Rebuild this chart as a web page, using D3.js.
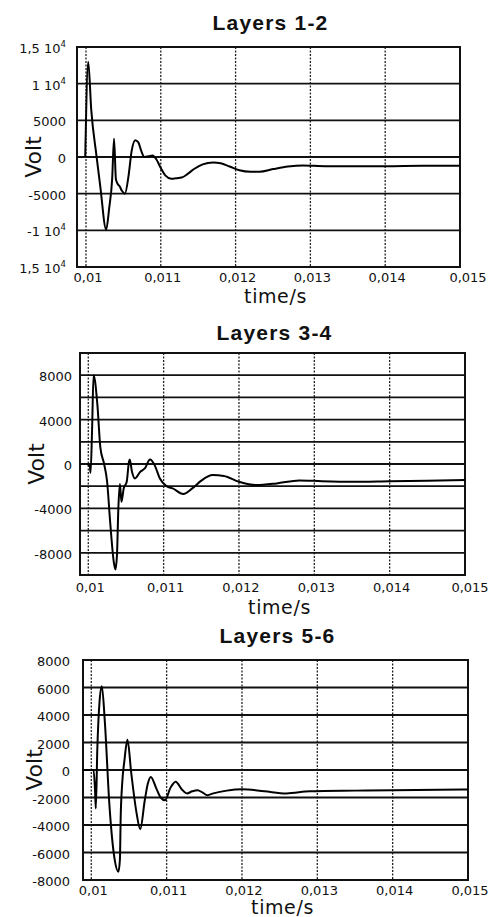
<!DOCTYPE html>
<html>
<head>
<meta charset="utf-8">
<script src="https://cdn.jsdelivr.net/npm/d3@7"></script>
<style>
	html, body { margin: 0; padding: 0; background: #fff; }
	svg { display: block; }
	.tick-label { font-family: "DejaVu Sans", sans-serif; font-size: 13px; fill: #111; }
	.axis-title { font-family: "DejaVu Sans", sans-serif; fill: #111; }
	.panel-title { font-family: "Liberation Sans", Arial, sans-serif; font-weight: bold; font-size: 21px; letter-spacing: 1.2px; fill: #111; }
</style>
</head>
<body>
<div id="chart"></div>
<script>
/* x axis, shared by all three panels */
const xTicks = [0.01, 0.011, 0.012, 0.013, 0.014, 0.015];
const xTickLabels = ["0,01", "0,011", "0,012", "0,013", "0,014", "0,015"];

/* Layers 1-2 */
const time12 = [0.00999, 0.01003, 0.01007, 0.01014, 0.01019, 0.01027, 0.01031, 0.01035, 0.010375, 0.0104,
	0.01042, 0.01045, 0.01048, 0.01052, 0.01057, 0.01061, 0.01066, 0.0107, 0.01074, 0.01078,
	0.01084, 0.01089, 0.01094, 0.011, 0.01106, 0.01114, 0.0112, 0.01128, 0.01136, 0.01145,
	0.01156, 0.0117, 0.0118, 0.01192, 0.01205, 0.0122, 0.01232, 0.0125, 0.0127, 0.0129,
	0.0132, 0.0136, 0.014, 0.0145, 0.015];
const volt12 = [0, 13000, 6500, 200, -3900, -9900, -7000, -3000, 2500, -3000,
	-3600, -4000, -4600, -5000, -2500, 800, 2300, 2000, 800, 0,
	100, 200, -300, -1500, -2500, -2950, -2900, -2800, -2300, -1600,
	-1000, -750, -850, -1300, -1800, -2000, -2000, -1650, -1300, -1150,
	-1250, -1250, -1250, -1200, -1200];
const yTicks12 = [15000, 10000, 5000, 0, -5000, -10000, -15000];
const yTickLabels12 = [["1,5 10", "4"], ["1 10", "4"], ["5000"], ["0"], ["-5000"], ["-1 10", "4"], ["1,5 10", "4"]];

/* Layers 3-4 */
const time34 = [0.00999, 0.01002, 0.01003, 0.01005, 0.01007, 0.01012, 0.01016, 0.01021, 0.01025, 0.01029,
	0.01034, 0.01036, 0.01038, 0.0104, 0.01042, 0.01044, 0.01047, 0.01051, 0.01054, 0.01055,
	0.01058, 0.01062, 0.01069, 0.01075, 0.01082, 0.01088, 0.01095, 0.01104, 0.01112, 0.01126,
	0.01138, 0.0115, 0.01165, 0.0118, 0.012, 0.01223, 0.0125, 0.0128, 0.0131, 0.0135,
	0.014, 0.0145, 0.015];
const volt34 = [0, -200, -800, 3000, 8000, 5400, 1500, 0, -1600, -5200,
	-8900, -9500, -8300, -3800, -1800, -3400, -2200, -1600, 200, 400,
	-700, -1300, -700, -400, 400, -100, -1300, -2000, -2200, -2700,
	-2200, -1500, -1000, -1080, -1600, -1900, -1750, -1480, -1550, -1600,
	-1550, -1500, -1450];
const yGrid34 = [10000, 8000, 6000, 4000, 2000, 0, -2000, -4000, -6000, -8000, -10000];
const yTicks34 = [8000, 4000, 0, -4000, -8000];

/* Layers 5-6 */
const time56 = [0.00988, 0.01003, 0.01005, 0.01006, 0.01008, 0.01011, 0.01014, 0.01018, 0.01024, 0.01031,
	0.01036, 0.01038, 0.01039, 0.01041, 0.01044, 0.01048, 0.01053, 0.0106, 0.01065, 0.01071,
	0.01075, 0.01079, 0.01086, 0.01092, 0.01098, 0.01105, 0.01112, 0.0112, 0.01127, 0.01134,
	0.01141, 0.01148, 0.01154, 0.01162, 0.0118, 0.012, 0.0123, 0.01259, 0.0129, 0.0135,
	0.014, 0.015];
const volt56 = [0, 0, -1500, -2800, 1500, 5000, 6100, 3500, -2500, -6500,
	-7400, -6500, -3500, -1000, 700, 2200, -200, -3100, -4300, -2200,
	-1000, -500, -1300, -2000, -2200, -1300, -850, -1400, -1700, -1550,
	-1470, -1650, -1830, -1700, -1500, -1400, -1550, -1700, -1550, -1500,
	-1470, -1420];
const yTicks56 = [8000, 6000, 4000, 2000, 0, -2000, -4000, -6000, -8000];

const width = 492, height = 917;

const svg = d3.select("#chart").append("svg")
	.attr("width", width)
	.attr("height", height);

/* one panel = frame, grid, labels, curve */
function drawPanel(p) {
	const x = d3.scaleLinear().domain(p.xDomain).range([p.left, p.right]);
	const y = d3.scaleLinear().domain(p.yDomain).range([p.bottom, p.top]);
	const g = svg.append("g");

	/* title */
	g.append("text")
		.attr("class", "panel-title")
		.attr("x", (p.left + p.right) / 2 + 2)
		.attr("y", p.titleY)
		.attr("text-anchor", "middle")
		.text(p.title);

	/* vertical dotted grid */
	g.selectAll(".vgrid")
		.data(xTicks.slice(0, -1))
		.join("line")
		.attr("x1", d => x(d)).attr("x2", d => x(d))
		.attr("y1", p.top).attr("y2", p.bottom)
		.attr("stroke", "#222")
		.attr("stroke-width", 1.3)
		.attr("stroke-dasharray", "2,1.5");

	/* horizontal solid grid */
	g.selectAll(".hgrid")
		.data(p.yGrid)
		.join("line")
		.attr("x1", p.left).attr("x2", p.right)
		.attr("y1", d => y(d)).attr("y2", d => y(d))
		.attr("stroke", "#111")
		.attr("stroke-width", 1.8);

	/* frame */
	g.append("rect")
		.attr("x", p.left).attr("y", p.top)
		.attr("width", p.right - p.left).attr("height", p.bottom - p.top)
		.attr("fill", "none")
		.attr("stroke", "#111")
		.attr("stroke-width", 2);

	/* x tick labels */
	g.selectAll(".xlab")
		.data(xTicks)
		.join("text")
		.attr("class", "tick-label")
		.attr("x", (d, i) => x(d) + (i === xTicks.length - 1 ? p.lastShift : 2))
		.attr("y", p.bottom + p.xLabelDy)
		.attr("text-anchor", "middle")
		.text((d, i) => xTickLabels[i]);

	/* y tick labels */
	const ylab = g.selectAll(".ylab")
		.data(p.yTicks)
		.join("text")
		.attr("class", "tick-label")
		.attr("x", p.left - p.yLabelGap)
		.attr("y", d => y(d) + 6)
		.attr("text-anchor", "end");
	ylab.each(function(d, i) {
		const parts = p.yLabels ? p.yLabels[i] : [String(d)];
		const t = d3.select(this);
		t.append("tspan").text(parts[0]);
		if (parts[1]) {
			t.append("tspan")
				.attr("font-size", "8.5px")
				.attr("dy", -6)
				.text(parts[1]);
		}
	});

	/* axis titles */
	g.append("text")
		.attr("class", "axis-title")
		.attr("font-size", "22px")
		.attr("transform", `translate(${p.voltX},${(p.top + p.bottom) / 2}) rotate(-90)`)
		.attr("text-anchor", "middle")
		.text("Volt");

	g.append("text")
		.attr("class", "axis-title")
		.attr("font-size", "19px")
		.attr("letter-spacing", "0.6px")
		.attr("x", (p.left + p.right) / 2 + 7)
		.attr("y", p.bottom + p.timeDy)
		.attr("text-anchor", "middle")
		.text("time/s");

	/* signal */
	const pts = p.times.map((t, i) => [t, p.volts[i]]);
	g.append("path")
		.datum(pts)
		.attr("fill", "none")
		.attr("stroke", "#000")
		.attr("stroke-width", 2)
		.attr("stroke-linejoin", "round")
		.attr("d", d3.line()
			.x(d => x(d[0]))
			.y(d => y(d[1]))
			.curve(d3.curveMonotoneX));
}

drawPanel({
	title: "Layers 1-2", titleY: 30,
	left: 77, right: 460, top: 47, bottom: 267,
	xDomain: [0.00988, 0.015], yDomain: [-15000, 15000],
	yGrid: yTicks12, yTicks: yTicks12, yLabels: yTickLabels12,
	yLabelGap: 11, voltX: 41, xLabelDy: 15, timeDy: 36, lastShift: 8,
	times: time12, volts: volt12
});

drawPanel({
	title: "Layers 3-4", titleY: 340,
	left: 80, right: 465, top: 353, bottom: 575,
	xDomain: [0.00989, 0.015], yDomain: [-10000, 10000],
	yGrid: yGrid34, yTicks: yTicks34,
	yLabelGap: 8, voltX: 44, xLabelDy: 17, timeDy: 39, lastShift: 5,
	times: time34, volts: volt34
});

drawPanel({
	title: "Layers 5-6", titleY: 643,
	left: 83, right: 468, top: 660, bottom: 880,
	xDomain: [0.00989, 0.015], yDomain: [-8000, 8000],
	yGrid: yTicks56, yTicks: yTicks56,
	yLabelGap: 13, voltX: 42, xLabelDy: 15, timeDy: 34, lastShift: 2,
	times: time56, volts: volt56
});
</script>
</body>
</html>
